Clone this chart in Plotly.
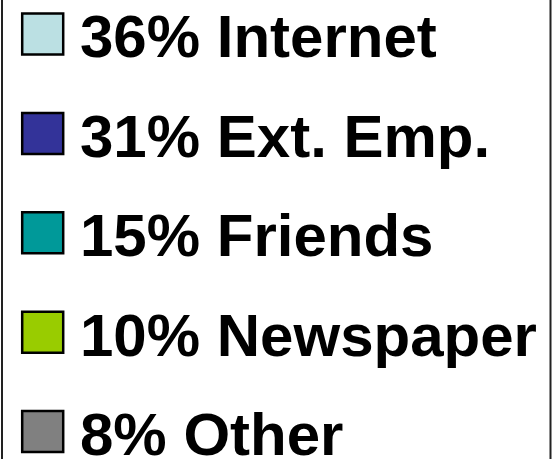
import plotly.graph_objects as go

labels = ["Internet", "Ext. Emp.", "Friends", "Newspaper", "Other"]
percents = [36, 31, 15, 10, 8]
colors = ["#BBE0E3", "#333399", "#009999", "#99CC00", "#808080"]

rows = list(range(len(labels)))
texts = [f"{p}% {l}" for p, l in zip(percents, labels)]

fig = go.Figure()
fig.add_trace(go.Scatter(
    x=[42.7] * len(rows), y=rows, mode="markers",
    marker=dict(symbol="square", size=41, color=colors,
                line=dict(color="black", width=2.5)),
    hoverinfo="skip", showlegend=False,
))

annotations = [
    dict(x=78, y=r, xref="x", yref="y", text=t, showarrow=False,
         xanchor="left", yanchor="middle", yshift=-3,
         font=dict(family="Liberation Sans, Arial, sans-serif", size=60,
                   color="black", weight="bold"))
    for r, t in zip(rows, texts)
]

fig.update_layout(
    width=558, height=459,
    margin=dict(l=0, r=0, t=0, b=0),
    paper_bgcolor="white", plot_bgcolor="white",
    xaxis=dict(range=[0, 558], visible=False, fixedrange=True),
    yaxis=dict(range=[4.276, -0.342], visible=False, fixedrange=True),
    annotations=annotations,
    shapes=[
        dict(type="line", xref="x", yref="paper", x0=2, x1=2, y0=0, y1=1,
             line=dict(color="#222", width=2)),
        dict(type="line", xref="x", yref="paper", x0=550.5, x1=550.5, y0=0, y1=1,
             line=dict(color="#222", width=2)),
    ],
)

fig.write_html("out.html")
